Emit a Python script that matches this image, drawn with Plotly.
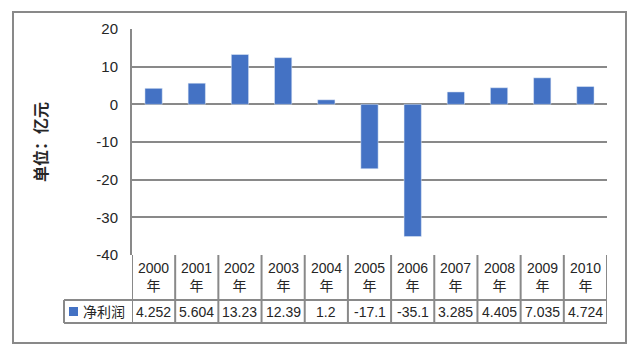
import plotly.graph_objects as go

years = ["2000", "2001", "2002", "2003", "2004", "2005", "2006", "2007", "2008", "2009", "2010"]
year_suffix = "年"
series_name = "净利润"
net_profit = [4.252, 5.604, 13.23, 12.39, 1.2, -17.1, -35.1, 3.285, 4.405, 7.035, 4.724]
value_labels = ["4.252", "5.604", "13.23", "12.39", "1.2", "-17.1", "-35.1", "3.285", "4.405", "7.035", "4.724"]
y_ticks = [20, 10, 0, -10, -20, -30, -40]
y_tick_labels = ["20", "10", "0", "-10", "-20", "-30", "-40"]
y_title = "单位：亿元"

W, H = 635, 353
L, R, T, B = 132, 28, 29, 98
pw, ph = W - L - R, H - T - B

def px_x(p):
    return (p - L) / pw

def px_y(p):
    return (H - B - p) / ph

GRID = "#898989"
BAR = "#4472C4"
TXT = "#262626"
FONT = "Liberation Sans, Noto Sans CJK SC, sans-serif"

fig = go.Figure()
fig.add_trace(go.Bar(x=list(range(len(years))), y=net_profit, marker_color=BAR,
                     width=0.4, name=series_name, showlegend=False))

shapes = []
shapes.append(dict(type="rect", xref="paper", yref="paper",
                   x0=px_x(13), x1=px_x(626), y0=px_y(343), y1=px_y(12),
                   line=dict(color=GRID, width=2), layer="below"))
n = len(years)
row_top = px_y(255)
row_mid = px_y(300)
row_bot = px_y(323)
for i in range(n + 1):
    shapes.append(dict(type="line", xref="x", yref="paper", x0=i - 0.5, x1=i - 0.5,
                       y0=row_bot, y1=row_top, line=dict(color=GRID, width=2)))
for yy in (row_mid, row_bot):
    shapes.append(dict(type="line", xref="paper", yref="paper", x0=px_x(64), x1=1,
                       y0=yy, y1=yy, line=dict(color=GRID, width=2)))
shapes.append(dict(type="line", xref="paper", yref="paper", x0=px_x(64), x1=px_x(64),
                   y0=row_bot, y1=row_mid, line=dict(color=GRID, width=2)))
shapes.append(dict(type="rect", xref="paper", yref="paper", x0=px_x(69), x1=px_x(78),
                   y0=px_y(316), y1=px_y(307), fillcolor=BAR, line=dict(width=0)))

annotations = []
for i, yr in enumerate(years):
    annotations.append(dict(x=i, y=px_y(277), xref="x", yref="paper",
                            text=f"{yr}<br>{year_suffix}", showarrow=False,
                            font=dict(size=14, color=TXT, family=FONT),
                            xanchor="center", yanchor="middle"))
    annotations.append(dict(x=i, y=px_y(312), xref="x", yref="paper",
                            text=value_labels[i], showarrow=False,
                            font=dict(size=14, color=TXT, family=FONT),
                            xanchor="center", yanchor="middle"))
annotations.append(dict(x=px_x(81), y=px_y(312), xref="paper", yref="paper",
                        text=series_name, showarrow=False, xanchor="left", yanchor="middle",
                        font=dict(size=14, color=TXT, family=FONT)))
annotations.append(dict(x=px_x(41), y=0.5, xref="paper", yref="paper",
                        text=f"<b>{y_title}</b>", showarrow=False, textangle=-90,
                        xanchor="center", yanchor="middle",
                        font=dict(size=16, color=TXT, family=FONT)))

fig.update_layout(
    width=W, height=H,
    margin=dict(l=L, r=R, t=T, b=B),
    paper_bgcolor="white", plot_bgcolor="white",
    shapes=shapes, annotations=annotations,
    xaxis=dict(range=[-0.5, n - 0.5], showticklabels=False, showgrid=False,
               zeroline=False, showline=False, ticks=""),
    yaxis=dict(range=[-40, 20], tickvals=y_ticks, ticktext=y_tick_labels,
               showgrid=True, gridcolor=GRID,
               gridwidth=2, zeroline=True, zerolinecolor=GRID, zerolinewidth=2,
               showline=True, linecolor=GRID, linewidth=2,
               ticklabelstandoff=9,
               tickfont=dict(size=15, color=TXT, family=FONT)),
    bargap=0.6,
)

fig.write_html("out.html")
